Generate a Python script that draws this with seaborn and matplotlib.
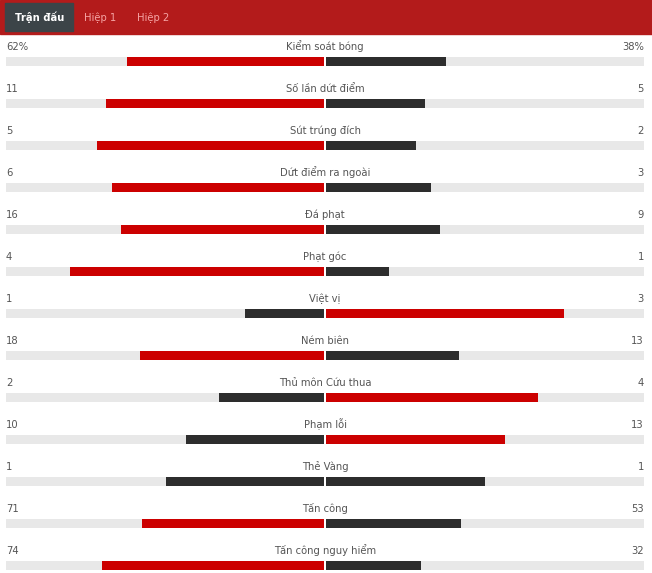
import matplotlib
matplotlib.use("Agg")
import matplotlib.pyplot as plt
from matplotlib.patches import Rectangle
import seaborn as sns
import pandas as pd

stats = ['Kiểm soát bóng', 'Số lần dứt điểm', 'Sút trúng đích', 'Dứt điểm ra ngoài',
         'Đá phạt', 'Phạt góc', 'Việt vị', 'Ném biên', 'Thủ môn Cứu thua',
         'Phạm lỗi', 'Thẻ Vàng', 'Tấn công', 'Tấn công nguy hiểm']
home = [62, 11, 5, 6, 16, 4, 1, 18, 2, 10, 1, 71, 74]
away = [38, 5, 2, 3, 9, 1, 3, 13, 4, 13, 1, 53, 32]
suffix = ['%', '', '', '', '', '', '', '', '', '', '', '', '']
tabs = ['Trận đấu', 'Hiệp 1', 'Hiệp 2']

RED = '#cc0000'
DARK = '#2d2d2d'
GREY = '#e8e8e8'
TXT = '#555555'
FS = 7.2

df = pd.DataFrame({'stat': stats, 'home': home, 'away': away})
df['left'] = -df['home'] / (df['home'] + df['away'])
df['right'] = df['away'] / (df['home'] + df['away'])
df['bg_l'] = -1.0
df['bg_r'] = 1.0
left_pal = {s: (RED if h > a else DARK) for s, h, a in zip(stats, home, away)}
right_pal = {s: (RED if a > h else DARK) for s, h, a in zip(stats, home, away)}

sns.set_style('white')
plt.rcParams['font.family'] = ['DejaVu Sans']

W, H = 652, 573
fig = plt.figure(figsize=(W / 100, H / 100), dpi=100)
fig.patch.set_facecolor('white')

# header band and tabs
fig.patches.append(Rectangle((0, 1 - 34 / H), 1, 34 / H, transform=fig.transFigure,
                             color='#b31b1b', zorder=0))
fig.patches.append(Rectangle((5 / W, 1 - 31 / H), 68 / W, 28 / H, transform=fig.transFigure,
                             color='#3c4448', zorder=1))
tab_x = [15, 84, 137]
for i, (t, x) in enumerate(zip(tabs, tab_x)):
    fig.text(x / W, 1 - 21 / H, t, ha='left', va='baseline', fontsize=FS,
             color='white' if i == 0 else '#f5a3a3',
             fontweight='bold' if i == 0 else 'normal')

ax = fig.add_axes([6 / W, 0, 638 / W, (H - 34) / H])
bw = 9 / 42
for col in ['bg_l', 'bg_r']:
    sns.barplot(data=df, x=col, y='stat', orient='h', color=GREY, width=bw,
                saturation=1, errorbar=None, ax=ax, order=stats)
sns.barplot(data=df, x='left', y='stat', hue='stat', palette=left_pal, orient='h',
            width=bw, saturation=1, errorbar=None, legend=False, ax=ax, order=stats)
sns.barplot(data=df, x='right', y='stat', hue='stat', palette=right_pal, orient='h',
            width=bw, saturation=1, errorbar=None, legend=False, ax=ax, order=stats)
for p in ax.patches:
    p.set_linewidth(0)
# small white gap between the two halves
idx = range(len(stats))
ax.vlines([0] * len(stats), [i - bw / 2 for i in idx], [i + bw / 2 for i in idx],
          color='white', lw=1.44, zorder=5)

ax.set_xlim(-1, 1)
ax.set_ylim((H - 34 - 27.5) / 42, -27.5 / 42)
ax.axis('off')

dy = 11.5 / 42
for i, (s, h, a, suf) in enumerate(zip(stats, home, away, suffix)):
    ax.text(-1, i - dy, f'{h}{suf}', ha='left', va='baseline', fontsize=FS, color=TXT)
    ax.text(1, i - dy, f'{a}{suf}', ha='right', va='baseline', fontsize=FS, color=TXT)
    ax.text(0, i - dy, s, ha='center', va='baseline', fontsize=FS, color=TXT)

fig.savefig('out.png', dpi=100)
